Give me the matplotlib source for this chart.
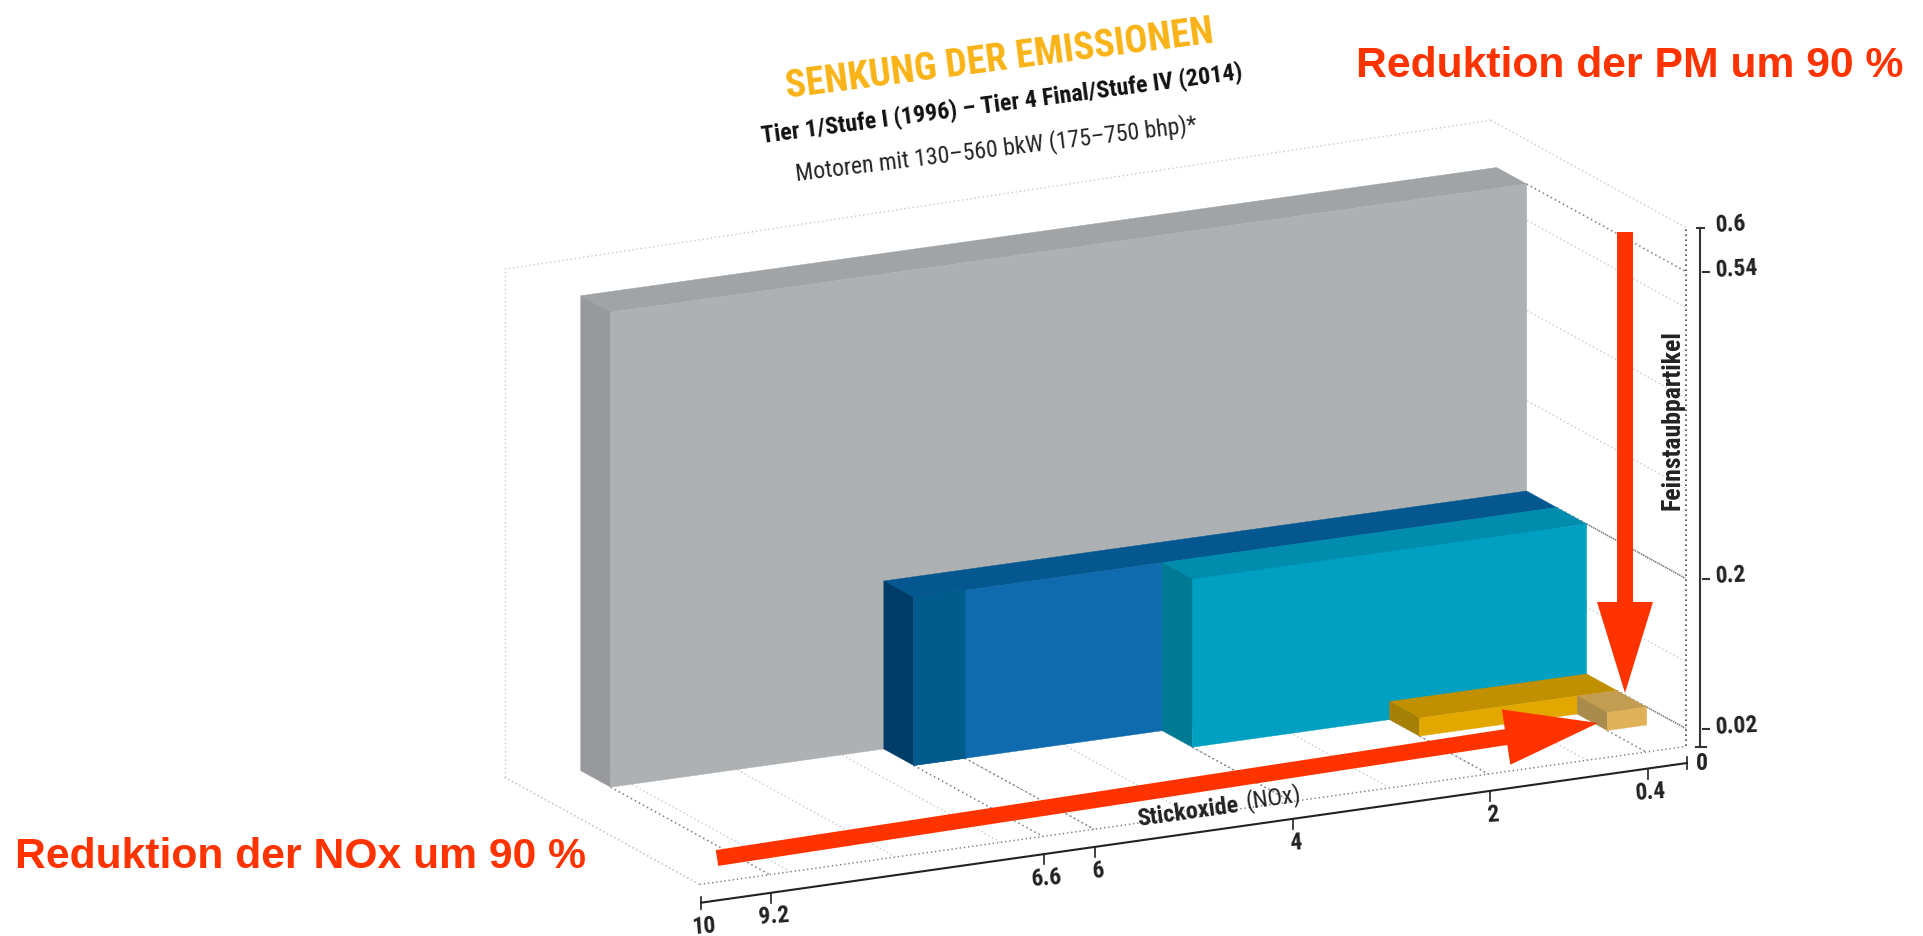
import numpy as np
import matplotlib
matplotlib.use("Agg")
import matplotlib.pyplot as plt
from matplotlib.patches import Polygon, FancyArrow

# ---- data -------------------------------------------------------------
tiers = ["Tier 1", "Tier 2", "Tier 3", "Tier 4 Interim", "Tier 4 Final"]
nox_values = [9.2, 6.6, 4.0, 2.0, 0.4]
pm_values = [0.54, 0.2, 0.2, 0.02, 0.02]
tier_depth = [4, 3, 2, 1, 0]
nox_inner_step = 6.0          # Tier 2 colour step

nox_ticks = [10, 9.2, 6.6, 6, 4, 2, 0.4, 0]
nox_tick_labels = ["10", "9.2", "6.6", "6", "4", "2", "0.4", "0"]
pm_ticks = [0.6, 0.54, 0.2, 0.02, 0]
pm_tick_labels = ["0.6", "0.54", "0.2", "0.02"]
pm_faint = [0.1, 0.3, 0.4, 0.5]
nox_faint = [1, 2, 3, 4, 5, 6, 7, 8, 9, 10]

# ---- styles ------------------------------------------------------------
face_colors = [
    dict(front="#ADB1B3", top="#A0A4A7", side="#98999D"),
    dict(front="#0F6BAE", top="#04588F", side="#003C68"),
    dict(front="#00A0C3", top="#008DAD", side="#007A93"),
    dict(front="#E2A800", top="#C19000", side="#A67F05"),
    dict(front="#DFB158", top="#C29C50", side="#A98C4C"),
]
step_color = "#005A8C"
RED = "#FF3300"
NARROW = ["Roboto Condensed", "Liberation Sans"]

# ---- oblique projection: data -> figure pixels --------------------------
ORIGIN = np.array([1646.7, 725.0])
EX = np.array([-98.6, 13.8])     # per unit NOx
EZ = np.array([-30.0, -16.5])    # per depth layer
# the printed axes are not quite linear
NOX_CAL_V = [0, 6, 6.6, 9.2, 10]
NOX_CAL_U = [0, 6, 6.52, 9.29, 10]
PM_CAL_V = [0, 0.02, 0.2, 0.54, 0.6]
PM_CAL_H = [0, 18, 168, 475, 519]
W_FRONT, W_BACK = -1.3, 5.2
PM_BACK_CORNER = 0.585


def nox_u(nox):
    return np.interp(nox, NOX_CAL_V, NOX_CAL_U)


def pm_h(pm):
    return np.interp(pm, PM_CAL_V, PM_CAL_H)


def P(nox, pm, w):
    p = ORIGIN + nox_u(nox) * EX + w * EZ
    return (p[0], p[1] - pm_h(pm))


fig = plt.figure(figsize=(19.23, 9.36), dpi=100)
ax = fig.add_axes([0, 0, 1, 1])
ax.set_xlim(0, 1923)
ax.set_ylim(936, 0)
ax.axis("off")


def dotted(a, b, color, lw=1.0, z=1):
    ax.plot([a[0], b[0]], [a[1], b[1]], color=color, lw=lw,
            ls=(0, (1, 2)), zorder=z)


FAINT, DARK = "#c6c8ca", "#77797b"

# box outline
dotted(P(10, 0, W_BACK), P(10, PM_BACK_CORNER, W_BACK), FAINT)
dotted(P(10, PM_BACK_CORNER, W_BACK), P(0, 0.6, W_BACK), FAINT)
dotted(P(10, 0, W_BACK), P(10, 0, W_FRONT), FAINT)
dotted(P(0, 0.6, W_BACK), P(0, 0.6, W_FRONT), FAINT)
dotted(P(10, 0, W_FRONT), P(0, 0, W_FRONT), DARK)
dotted(P(0, 0, W_FRONT), P(0, 0.6, W_FRONT), "#444444", 1.2)

for n in nox_faint:
    dotted(P(n, 0, W_BACK), P(n, 0, W_FRONT), FAINT)
for pm in pm_faint:
    dotted(P(0, pm, W_BACK), P(0, pm, W_FRONT), FAINT)

# bars, back to front
order = np.argsort(tier_depth)[::-1]
for z, i in enumerate(order):
    n, pm, w = nox_values[i], pm_values[i], tier_depth[i]
    c = face_colors[i]
    zz = 3 + z
    ax.add_patch(Polygon([P(n, pm, w), P(n, pm, w + 1), P(0, pm, w + 1), P(0, pm, w)],
                         fc=c["top"], ec=c["top"], lw=0.3, zorder=zz))
    ax.add_patch(Polygon([P(n, 0, w), P(n, 0, w + 1), P(n, pm, w + 1), P(n, pm, w)],
                         fc=c["side"], ec=c["side"], lw=0.3, zorder=zz))
    ax.add_patch(Polygon([P(n, 0, w), P(0, 0, w), P(0, pm, w), P(n, pm, w)],
                         fc=c["front"], ec=c["front"], lw=0.3, zorder=zz))
    if tiers[i] == "Tier 2":
        ax.add_patch(Polygon([P(n, 0, w), P(nox_inner_step, 0, w),
                              P(nox_inner_step, pm, w), P(n, pm, w)],
                             fc=step_color, ec=step_color, lw=0.3, zorder=zz))
    # dark guide lines from the bar to the axes
    dotted(P(n, 0, w), P(n, 0, W_FRONT), DARK, 1.1, 2)
    dotted(P(0, pm, w), P(0, pm, W_FRONT), DARK, 1.1, 2)
dotted(P(nox_inner_step, 0, tier_depth[1]), P(nox_inner_step, 0, W_FRONT), DARK, 1.1, 2)

# x axis
AX0 = np.array([1687.0, 763.0])
AXE = np.array([-98.6, 13.97])
a0, a1 = AX0 + 10 * AXE, AX0
ax.plot([a0[0], a1[0]], [a0[1], a1[1]], color="#222222", lw=1.5, zorder=2)
for v, lab in zip(nox_ticks, nox_tick_labels):
    p = AX0 + nox_u(v) * AXE
    if v in (0, 10):
        ax.plot([p[0], p[0]], [p[1] - 6, p[1] + 6], color="#222222", lw=1.2)
    else:
        ax.plot([p[0], p[0]], [p[1], p[1] + 10], color="#222222", lw=1.2)
    if v != 0:
        ax.text(p[0] + 3, p[1] + 24, lab, ha="center", va="center", rotation=4,
                family=NARROW, weight="bold", fontsize=17, color="#222222")

# y axis
YX = 1700.0
YB = 747.0
ax.plot([YX, YX], [YB, YB - pm_h(0.6)], color="#333333", lw=1.5, zorder=2)
ax.plot([YX - 4, YX + 6], [YB, YB], color="#333333", lw=1.5)
for v, lab in zip(pm_ticks[:-1], pm_tick_labels):
    y = YB - pm_h(v)
    if v == 0.6:
        ax.plot([YX - 3, YX + 4], [y, y], color="#333333", lw=1.5)
    else:
        ax.plot([YX + 3, YX + 9], [y, y], color="#333333", lw=1.5)
    ax.text(YX + 15, y - 3, lab, ha="left", va="center", rotation=3,
            family=NARROW, weight="bold", fontsize=17, color="#222222")
ax.text(YX + 2, YB + 16, "0", ha="center", va="center",
        family=NARROW, weight="bold", fontsize=17, color="#222222")

# axis titles
ax.text(1672, 420, "Feinstaubpartikel", rotation=90, ha="center", va="center",
        family=NARROW, weight="bold", fontsize=18.5, color="#222222")
ax.text(1188, 812, "Stickoxide", rotation=8, ha="center", va="center",
        rotation_mode="anchor", family=NARROW, weight="bold", fontsize=17.5, color="#222222")
ax.text(1273, 798, "(NOx)", rotation=8, ha="center", va="center",
        rotation_mode="anchor", family=NARROW, fontsize=17.5, color="#222222")

# headline block
ax.text(1000, 60, "SENKUNG DER EMISSIONEN", rotation=7.4, ha="center", va="center",
        rotation_mode="anchor", family=NARROW, weight="bold", fontsize=27.6, color="#F9B316")
ax.text(1002, 104, "Tier 1/Stufe I (1996) – Tier 4 Final/Stufe IV (2014)", rotation=7.6,
        ha="center", va="center", rotation_mode="anchor", family=NARROW, weight="bold",
        fontsize=17.3, color="#111111")
ax.text(996, 149, "Motoren mit 130–560 bkW (175–750 bhp)*", rotation=7,
        ha="center", va="center", rotation_mode="anchor", family=NARROW, fontsize=17.1,
        color="#222222")

# red annotations
ax.add_patch(FancyArrow(1625, 232, 0, 461, width=16, head_width=56, head_length=91,
                        length_includes_head=True, fc=RED, ec=RED, lw=0, zorder=20))
ax.add_patch(FancyArrow(717, 858, 881, -135, width=16, head_width=56, head_length=93,
                        length_includes_head=True, fc=RED, ec=RED, lw=0, zorder=20))
ax.text(1356, 66, "Reduktion der PM um 90 %", ha="left", va="center",
        family="Liberation Sans", weight="bold", fontsize=30.7, color=RED, zorder=21)
ax.text(15, 857, "Reduktion der NOx um 90 %", ha="left", va="center",
        family="Liberation Sans", weight="bold", fontsize=30.7, color=RED, zorder=21)

fig.savefig("out.png", dpi=100)
